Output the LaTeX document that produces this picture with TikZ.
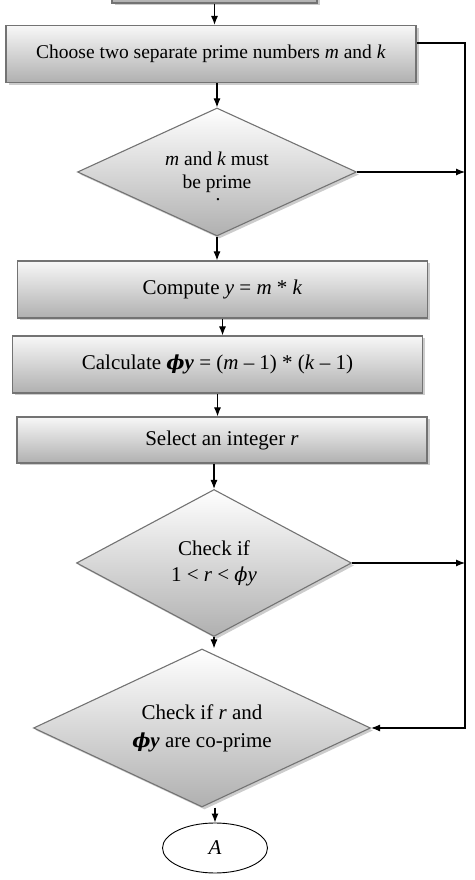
\documentclass[tikz,border=0pt]{standalone}
\usepackage{fontspec}
\setmainfont{Liberation Serif}
\newfontfamily\phifont[Scale=0.92]{DejaVu Serif}
\newcommand{\phiy}{{\phifont\itshape ϕ}\textit{y}}
\newcommand{\phiyb}{\textbf{{\phifont\itshape ϕ}\textit{y}}}
\usepackage{tikz}
\usetikzlibrary{shapes.geometric, arrows, arrows.meta, positioning, shadows}
\tikzstyle{process} = [rectangle, minimum width=410pt, minimum height=57pt, text centered, align=center, draw=black!55, line width=1.1pt, top color=gray!6, bottom color=gray!62, drop shadow={shadow xshift=2.5pt, shadow yshift=-2.5pt, fill=gray!40, opacity=1}, font=\fontsize{21}{26}\selectfont]
\tikzstyle{decision} = [diamond, inner sep=0pt, text centered, align=center, draw=black!55, line width=1.1pt, top color=white, bottom color=gray!62, drop shadow={shadow xshift=2.5pt, shadow yshift=-2.5pt, fill=gray!40, opacity=1}, font=\fontsize{21}{26}\selectfont]
\tikzstyle{terminal} = [ellipse, minimum width=105pt, minimum height=50pt, draw=black, line width=0.9pt, font=\fontsize{21}{26}\selectfont]
\tikzstyle{arrow} = [line width=1.1pt,->,>={Latex[length=9pt,width=7pt]}]

\begin{document}
\begin{tikzpicture}[node distance=100pt]
\useasboundingbox (0,0) rectangle (474pt,880pt);
\node (choose) [process, font=\fontsize{19.5}{24}\selectfont] at (211pt,826pt) {Choose two separate prime numbers \textit{m} and \textit{k}};
\node (prev) [process, minimum width=205pt, minimum height=40pt, above of=choose, yshift=-29pt, xshift=3.5pt] {};
\node (prime) [decision, minimum width=279pt, minimum height=128pt, shape aspect=2.18, font=\fontsize{19.5}{23}\selectfont, below of=choose, yshift=-18pt, xshift=6pt] {\textit{m} and \textit{k} must\\be prime\llap{\raisebox{-12pt}[0pt][0pt]{.}\hspace{31pt}}};
\node (compute) [process, below of=prime, yshift=-17.5pt, xshift=5.5pt] {Compute \textit{y} = \textit{m} * \textit{k}};
\node (calc) [process, below of=compute, yshift=25pt, xshift=-5pt] {Calculate \phiyb{} = (\textit{m} – 1) * (\textit{k} – 1)};
\node (select) [process, minimum height=46pt, below of=calc, yshift=24.5pt, xshift=4.5pt] {Select an integer \textit{r}};
\node (range) [decision, minimum width=275pt, minimum height=147pt, shape aspect=1.87, below of=select, yshift=-23pt, xshift=-8pt] {Check if\\1 < \textit{r} < \phiy};
\node (coprime) [decision, minimum width=337pt, minimum height=158pt, shape aspect=2.13, font=\fontsize{21}{28}\selectfont, below of=range, yshift=-65pt, xshift=-12pt] {Check if \textit{r} and\\\phiyb{} are co-prime};
\node (conn) [terminal, below of=coprime, yshift=-20pt, xshift=13pt] {\textit{A}};
\node (rail) [coordinate, node distance=254pt, right of=choose] {};

% main flow
\draw [arrow] (prev.south) -- (prev.south |- choose.north);
\draw [arrow] (choose.south -| prime.north) -- (prime.north);
\draw [arrow] (prime.south) -- (prime.south |- compute.north);
\draw [arrow] (compute.south) -- (compute.south |- calc.north);
\draw [arrow] (calc.south) -- (calc.south |- select.north);
\draw [arrow] (select.south -| range.north) -- (range.north);
\draw [arrow] (range.south) -- (range.south |- coprime.north);
\draw [arrow] (conn.north |- coprime.south) -- (conn.north);

% right side rail
\draw [arrow] (prime.east) -- (prime.east -| rail);
\draw [arrow] (range.east) -- (range.east -| rail);
\draw [arrow] ([yshift=11pt]choose.east) -| (rail |- coprime.east) -- (coprime.east);
\end{tikzpicture}
\end{document}
